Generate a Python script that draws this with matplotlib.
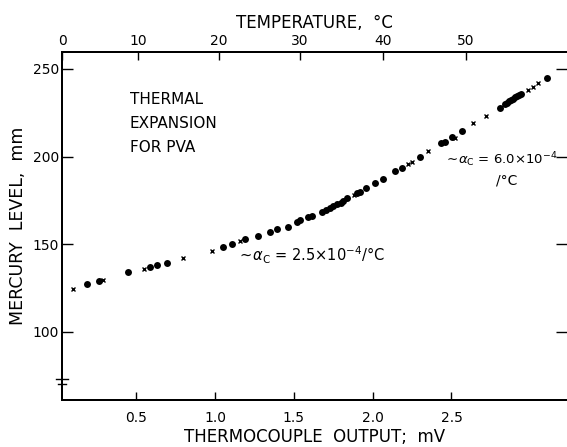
#thermal expansion of PVA - mercury level vs thermocouple output
import matplotlib
matplotlib.use("Agg")
import matplotlib.pyplot as plt
import numpy as np

plt.rcParams['font.family'] = ['DejaVu Sans']
plt.rcParams['mathtext.fontset'] = 'dejavusans'

#solid dots (mV, mm)
dot_mv = [0.187, 0.263, 0.447, 0.587, 0.631, 0.695, 1.050, 1.107, 1.190, 1.272,
          1.348, 1.393, 1.463, 1.520, 1.539, 1.589, 1.615, 1.678, 1.704, 1.729,
          1.748, 1.773, 1.799, 1.811, 1.837, 1.900, 1.919, 1.957, 2.015, 2.065,
          2.141, 2.186, 2.300, 2.433, 2.459, 2.503, 2.567, 2.808, 2.839, 2.852,
          2.865, 2.878, 2.890, 2.903, 2.916, 2.928, 2.941, 3.106]
dot_mm = [127.4, 129.1, 134.2, 137.1, 138.2, 139.3, 148.5, 150.2, 153.0, 154.7,
          157.0, 158.7, 159.9, 162.7, 163.8, 165.6, 166.1, 168.4, 169.5, 170.7,
          171.8, 173.0, 173.5, 174.7, 176.4, 179.2, 179.8, 182.1, 184.9, 187.2,
          191.8, 193.5, 199.8, 207.7, 208.3, 211.2, 214.6, 227.7, 230.0, 230.6,
          231.7, 232.3, 232.8, 234.0, 234.5, 235.1, 235.7, 244.8]

#crosses (mV, mm)
cross_mv = [0.098, 0.289, 0.549, 0.796, 0.980, 1.158, 1.881, 2.224, 2.249, 2.351,
            2.520, 2.637, 2.719, 2.985, 3.017, 3.049]
cross_mm = [124.5, 129.6, 135.9, 142.2, 146.2, 151.9, 178.1, 195.8, 196.9, 203.2,
            210.6, 219.1, 223.1, 238.0, 239.7, 242.0]

#axis ticks
mv_ticks = [0.5, 1.0, 1.5, 2.0, 2.5]
mv_labels = ['0.5', '1.0', '1.5', '2.0', '2.5']
mm_ticks = [100, 150, 200, 250]
temp_pos = [0.03, 0.511, 1.024, 1.538, 2.065, 2.592]   #mV where the temperature ticks sit
temp_labels = ['0', '10', '20', '30', '40', '50']

fig = plt.figure(figsize=(5.67, 4.47), dpi=100)
ax = fig.add_axes([0.1093, 0.105, 0.8907, 0.7787])

ax.plot(dot_mv, dot_mm, 'o', color='black', markersize=5, mew=0)
ax.plot(cross_mv, cross_mm, 'x', color='black', markersize=3.5, mew=1.0)

ax.set_xlim(0.029, 3.233)
ax.set_ylim(61.2, 259.6)

ax.set_xticks(mv_ticks)
ax.set_xticklabels(mv_labels)
ax.set_yticks(mm_ticks)
ax.tick_params(axis='x', direction='in', length=6, width=1, labelsize=10, pad=8)
ax.tick_params(axis='y', direction='in', length=8, width=1, labelsize=10, right=True, pad=2)
for s in ax.spines.values():
    s.set_linewidth(1.4)
ax.spines['right'].set_visible(False)

ax.set_xlabel('THERMOCOUPLE  OUTPUT;  mV', fontsize=12, labelpad=2)
ax.set_ylabel('MERCURY  LEVEL,  mm', fontsize=12.5, labelpad=4)

#top temperature scale
top = ax.twiny()
top.set_xlim(ax.get_xlim())
top.set_xticks(temp_pos)
top.set_xticklabels(temp_labels)
top.tick_params(axis='x', direction='in', length=6, width=1, labelsize=10, pad=3)
top.set_xlabel('TEMPERATURE,  °C', fontsize=12, labelpad=4)
for s in top.spines.values():
    s.set_linewidth(1.4)
top.spines['right'].set_visible(False)

#axis break marks
ax.plot([-0.012, 0.012], [0.06, 0.06], transform=ax.transAxes, color='black', lw=1, clip_on=False)
ax.plot([-0.008, 0.008], [0.045, 0.045], transform=ax.transAxes, color='black', lw=1, clip_on=False)

ax.text(0.46, 237, 'THERMAL\nEXPANSION\nFOR PVA', fontsize=11, va='top', ha='left', linespacing=1.75)
ax.text(1.14, 143.5, r'$\sim\!\alpha_{\rm C}$ = 2.5$\times$10$^{-4}$/°C', fontsize=10.5, va='center', ha='left')
ax.text(2.45, 198, r'$\sim\!\alpha_{\rm C}$ = 6.0$\times$10$^{-4}$', fontsize=9.5, va='center', ha='left')
ax.text(2.85, 186.5, '/°C', fontsize=10, va='center', ha='center')

plt.savefig('out.png', dpi=100)
